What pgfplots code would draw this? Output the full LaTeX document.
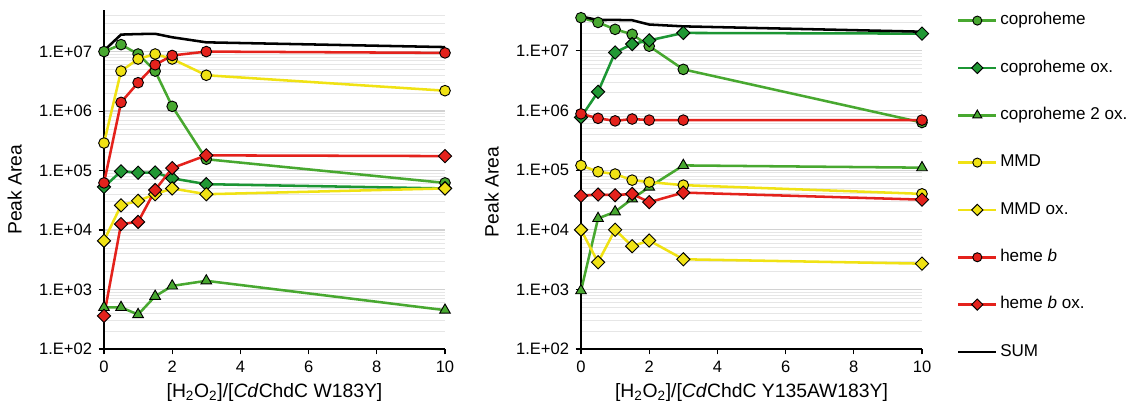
\documentclass[border=0pt]{standalone}
\usepackage{fontspec}
\setmainfont{Liberation Sans}
\usepackage{pgfplots}
\pgfplotsset{compat=1.18}

\newcommand{\tickfont}{\fontsize{12.4pt}{14pt}\selectfont}
\newcommand{\labfont}{\fontsize{14.5pt}{17pt}\selectfont}
\newcommand{\legfont}{\fontsize{12.8pt}{15pt}\selectfont}

\definecolor{cgreen}{RGB}{72,168,48}
\definecolor{cgreenox}{RGB}{28,150,52}
\definecolor{cyellow}{RGB}{240,226,20}
\definecolor{cred}{RGB}{228,34,28}
\definecolor{majgrid}{RGB}{210,210,210}
\definecolor{mingrid}{RGB}{230,230,230}

\pgfplotsset{
  /pgfplots/mypanel/.style={
    scale only axis, width=255.75pt,
    xmin=0, xmax=10, ymin=1e2,
    axis x line=bottom, axis y line=left,
    axis line style={-, black, line width=0.8pt},
    xtick={0,2,4,6,8,10},
    xticklabel={\tickfont\pgfmathprintnumber{\tick}},
    ytick={1e2,1e3,1e4,1e5,1e6,1e7},
    yticklabels={{\tickfont 1.E+02},{\tickfont 1.E+03},{\tickfont 1.E+04},
                 {\tickfont 1.E+05},{\tickfont 1.E+06},{\tickfont 1.E+07}},
    minor ytick={2e2,3e2,4e2,5e2,6e2,7e2,8e2,9e2,
                 2e3,3e3,4e3,5e3,6e3,7e3,8e3,9e3,
                 2e4,3e4,4e4,5e4,6e4,7e4,8e4,9e4,
                 2e5,3e5,4e5,5e5,6e5,7e5,8e5,9e5,
                 2e6,3e6,4e6,5e6,6e6,7e6,8e6,9e6,
                 2e7,3e7,4e7},
    ymajorgrids, yminorgrids,
    major grid style={majgrid, line width=0.9pt},
    minor grid style={mingrid, line width=0.6pt},
    tick style={black, line width=0.8pt},
    tick align=outside, major tick length=4pt, minor tick length=0pt,
    ylabel={Peak Area},
    clip=false,
    legend image code/.code={
      \draw[mark repeat=2, mark phase=2, ##1, mark size=0.85\pgfplotmarksize]
        plot coordinates {(0pt,0pt) (14.25pt,0pt) (28.5pt,0pt)};},
  },
  /pgfplots/every y tick label/.append style={xshift=-1.5pt},
  /pgfplots/every x tick label/.append style={yshift=-1.5pt},
  /pgfplots/every axis y label/.style={at={(axis description cs:-0.262,0.47)}, rotate=90, anchor=center, font=\labfont},
  /pgfplots/every axis x label/.style={at={(axis description cs:0.5,0)}, anchor=center, yshift=-33pt, font=\labfont},
  /pgfplots/mk/.style={line width=1.9pt, mark size=#1},
  /pgfplots/copro/.style={cgreen, mk=4pt, mark=*, mark options={fill=cgreen, draw=black, line width=0.7pt}},
  /pgfplots/coproox/.style={cgreenox, mk=3.5pt, mark=square*, mark options={rotate=45, fill=cgreenox!90!cgreen, draw=black, line width=0.7pt}},
  /pgfplots/coproiiox/.style={cgreen, mk=4.6pt, mark=triangle*, mark options={fill=cgreen, draw=black, line width=0.7pt}},
  /pgfplots/mmd/.style={cyellow, mk=4pt, mark=*, mark options={fill=cyellow, draw=black, line width=0.7pt}},
  /pgfplots/mmdox/.style={cyellow, mk=3.5pt, mark=square*, mark options={rotate=45, fill=cyellow, draw=black, line width=0.7pt}},
  /pgfplots/heme/.style={cred, mk=4pt, mark=*, mark options={fill=cred, draw=black, line width=0.7pt}},
  /pgfplots/hemeox/.style={cred, mk=3.5pt, mark=square*, mark options={rotate=45, fill=cred, draw=black, line width=0.7pt}},
  /pgfplots/sumline/.style={black, line width=1.9pt, no marks},
}

\begin{document}
\begin{tikzpicture}
\useasboundingbox (0,0) rectangle (846.75pt,306pt);

\begin{axis}[ymode=log, mypanel, at={(78pt,44.25pt)}, anchor=south west,
  height=254.25pt, ymax=5e7,
  /pgf/number format/assume math mode=true,
  xlabel={[H\textsubscript{2}O\textsubscript{2}]/[\textit{Cd}ChdC W183Y]}]
\addplot[copro] coordinates {(0,1.0e7) (0.5,1.31e7) (1,9.1e6) (1.5,4.7e6) (2,1.2e6) (3,1.55e5) (10,6.2e4)};
\addplot[coproox] coordinates {(0,5.3e4) (0.5,9.7e4) (1,9.2e4) (1.5,9.3e4) (2,7.4e4) (3,5.9e4) (10,5.0e4)};
\addplot[coproiiox] coordinates {(0,5.0e2) (0.5,5.0e2) (1,3.8e2) (1.5,7.7e2) (2,1.15e3) (3,1.4e3) (10,4.5e2)};
\addplot[mmd] coordinates {(0,2.9e5) (0.5,4.7e6) (1,7.5e6) (1.5,9.1e6) (2,7.5e6) (3,4.0e6) (10,2.2e6)};
\addplot[mmdox] coordinates {(0,6.6e3) (0.5,2.6e4) (1,3.1e4) (1.5,4.0e4) (2,5.0e4) (3,4.0e4) (10,5.0e4)};
\addplot[heme] coordinates {(0,6.2e4) (0.5,1.4e6) (1,3.0e6) (1.5,6.0e6) (2,8.6e6) (3,1.0e7) (10,9.5e6)};
\addplot[hemeox] coordinates {(0,3.6e2) (0.5,1.26e4) (1,1.37e4) (1.5,4.7e4) (2,1.1e5) (3,1.8e5) (10,1.75e5)};
\addplot[sumline] coordinates {(0,1.04e7) (0.5,1.93e7) (1,1.97e7) (1.5,1.99e7) (2,1.74e7) (3,1.43e7) (10,1.19e7)};
\end{axis}

\begin{axis}[ymode=log, mypanel, at={(435.75pt,44.25pt)}, anchor=south west,
  height=250.5pt, ymax=4e7,
  /pgf/number format/assume math mode=true,
  xlabel={[H\textsubscript{2}O\textsubscript{2}]/[\textit{Cd}ChdC Y135AW183Y]},
  legend style={at={(1.102,1.007)}, anchor=north west, draw=none, fill=none,
    inner sep=0pt, row sep=24pt, column sep=0pt,
    nodes={inner xsep=2pt, inner ysep=0pt, text height=9pt, text depth=2.5pt}},
  legend cell align=left]
\addplot[copro] coordinates {(0,3.6e7) (0.5,3.0e7) (1,2.3e7) (1.5,1.9e7) (2,1.2e7) (3,4.9e6) (10,6.3e5)};
\addlegendentry{\legfont coproheme}
\addplot[coproox] coordinates {(0,7.7e5) (0.5,2.06e6) (1,9.4e6) (1.5,1.3e7) (2,1.5e7) (3,2.0e7) (10,1.95e7)};
\addlegendentry{\legfont coproheme ox.}
\addplot[coproiiox] coordinates {(0,9.5e2) (0.5,1.55e4) (1,2.0e4) (1.5,3.3e4) (2,5.2e4) (3,1.2e5) (10,1.1e5)};
\addlegendentry{\legfont coproheme 2 ox.}
\addplot[mmd] coordinates {(0,1.2e5) (0.5,9.4e4) (1,8.6e4) (1.5,6.8e4) (2,6.3e4) (3,5.6e4) (10,4.0e4)};
\addlegendentry{\legfont MMD}
\addplot[mmdox] coordinates {(0,1.0e4) (0.5,2.85e3) (1,1.0e4) (1.5,5.3e3) (2,6.6e3) (3,3.2e3) (10,2.7e3)};
\addlegendentry{\legfont MMD ox.}
\addplot[heme] coordinates {(0,8.8e5) (0.5,7.4e5) (1,6.7e5) (1.5,7.2e5) (2,6.9e5) (3,6.9e5) (10,6.9e5)};
\addlegendentry{\legfont heme \textit{b}}
\addplot[hemeox] coordinates {(0,3.7e4) (0.5,3.9e4) (1,3.8e4) (1.5,4.0e4) (2,2.9e4) (3,4.2e4) (10,3.2e4)};
\addlegendentry{\legfont heme \textit{b} ox.}
\addplot[sumline] coordinates {(0,3.78e7) (0.5,3.29e7) (1,3.31e7) (1.5,3.27e7) (2,2.77e7) (3,2.58e7) (10,2.1e7)};
\addlegendentry{\legfont SUM}
\end{axis}
\end{tikzpicture}
\end{document}
